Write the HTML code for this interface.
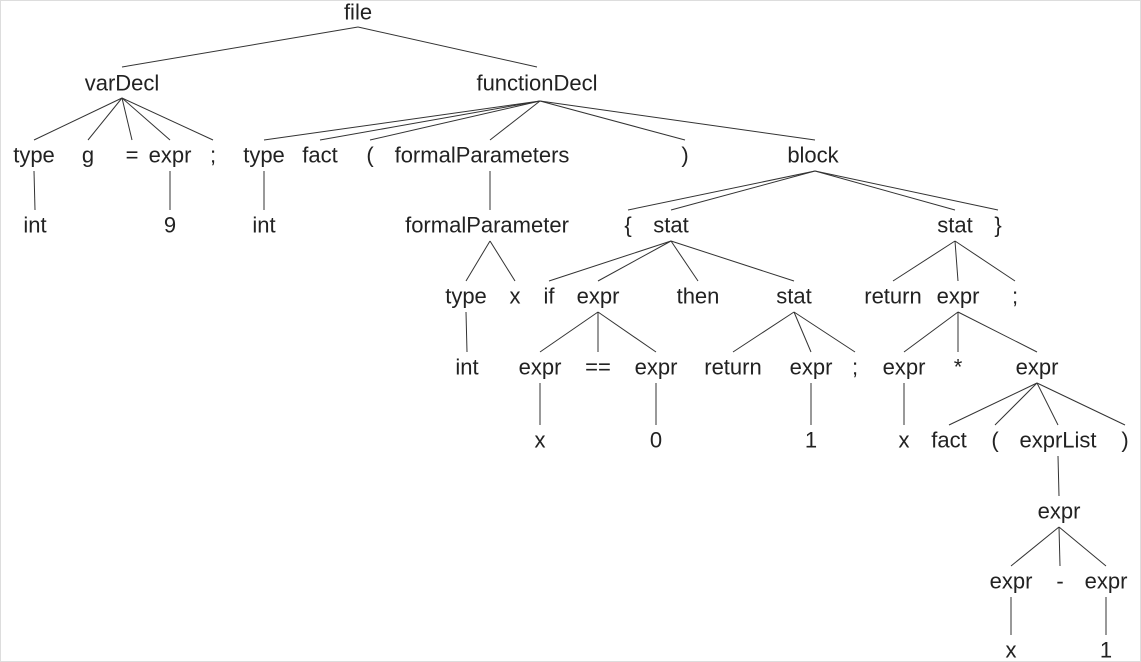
<!DOCTYPE html>
<html><head><meta charset="utf-8"><style>
html,body{margin:0;padding:0;background:#fff;}
svg{display:block}
text{font-family:"Liberation Sans",sans-serif;font-size:22px;fill:#222;text-anchor:middle;dominant-baseline:central}
line{stroke:#333;stroke-width:1}
</style></head><body>
<svg width="1141" height="662" viewBox="0 0 1141 662">
<rect x="0.5" y="0.5" width="1140" height="661" fill="none" stroke="#ddd"/>
<g>
<line x1="358" y1="27" x2="122" y2="67"/><line x1="358" y1="27" x2="537" y2="67"/>
<line x1="122" y1="98" x2="34" y2="140"/><line x1="122" y1="98" x2="88" y2="140"/><line x1="122" y1="98" x2="132" y2="140"/><line x1="122" y1="98" x2="170" y2="140"/><line x1="122" y1="98" x2="213" y2="140"/>
<line x1="34" y1="171" x2="35" y2="210"/><line x1="170" y1="171" x2="170" y2="210"/>
<line x1="540" y1="101" x2="264" y2="140"/><line x1="540" y1="101" x2="320" y2="140"/><line x1="540" y1="101" x2="370" y2="140"/><line x1="540" y1="101" x2="490" y2="140"/><line x1="540" y1="101" x2="685" y2="140"/><line x1="540" y1="101" x2="815" y2="140"/>
<line x1="264" y1="171" x2="264" y2="210"/><line x1="490" y1="171" x2="490" y2="210"/>
<line x1="815" y1="171" x2="628" y2="210"/><line x1="815" y1="171" x2="671" y2="210"/><line x1="815" y1="171" x2="955" y2="210"/><line x1="815" y1="171" x2="998" y2="210"/>
<line x1="490" y1="241" x2="466" y2="281"/><line x1="490" y1="241" x2="515" y2="281"/>
<line x1="466" y1="312" x2="467" y2="352"/>
<line x1="671" y1="241" x2="549" y2="281"/><line x1="671" y1="241" x2="598" y2="281"/><line x1="671" y1="241" x2="698" y2="281"/><line x1="671" y1="241" x2="794" y2="281"/>
<line x1="955" y1="241" x2="893" y2="281"/><line x1="955" y1="241" x2="958" y2="281"/><line x1="955" y1="241" x2="1015" y2="281"/>
<line x1="598" y1="312" x2="540" y2="352"/><line x1="598" y1="312" x2="598" y2="352"/><line x1="598" y1="312" x2="656" y2="352"/>
<line x1="794" y1="312" x2="733" y2="352"/><line x1="794" y1="312" x2="811" y2="352"/><line x1="794" y1="312" x2="855" y2="352"/>
<line x1="958" y1="312" x2="904" y2="352"/><line x1="958" y1="312" x2="958" y2="352"/><line x1="958" y1="312" x2="1037" y2="352"/>
<line x1="540" y1="383" x2="540" y2="425"/><line x1="656" y1="383" x2="656" y2="425"/><line x1="811" y1="383" x2="811" y2="425"/><line x1="904" y1="383" x2="904" y2="425"/>
<line x1="1037" y1="383" x2="949" y2="425"/><line x1="1037" y1="383" x2="995" y2="425"/><line x1="1037" y1="383" x2="1058" y2="425"/><line x1="1037" y1="383" x2="1125" y2="425"/>
<line x1="1058" y1="456" x2="1059" y2="496"/>
<line x1="1059" y1="527" x2="1011" y2="566"/><line x1="1059" y1="527" x2="1060" y2="566"/><line x1="1059" y1="527" x2="1106" y2="566"/>
<line x1="1011" y1="597" x2="1011" y2="635"/><line x1="1106" y1="597" x2="1106" y2="635"/>
</g>
<g>
<text x="358" y="12">file</text>
<text x="122" y="83">varDecl</text><text x="537" y="83">functionDecl</text>
<text x="34" y="155">type</text><text x="88" y="155">g</text><text x="132" y="155">=</text><text x="170" y="155">expr</text><text x="213" y="155">;</text>
<text x="264" y="155">type</text><text x="320" y="155">fact</text><text x="370" y="155">(</text><text x="482" y="155">formalParameters</text><text x="685" y="155">)</text><text x="813" y="155">block</text>
<text x="35" y="225">int</text><text x="170" y="225">9</text><text x="264" y="225">int</text><text x="487" y="225">formalParameter</text><text x="628" y="225">{</text><text x="671" y="225">stat</text><text x="955" y="225">stat</text><text x="998" y="225">}</text>
<text x="466" y="296">type</text><text x="515" y="296">x</text><text x="549" y="296">if</text><text x="598" y="296">expr</text><text x="698" y="296">then</text><text x="794" y="296">stat</text><text x="893" y="296">return</text><text x="958" y="296">expr</text><text x="1015" y="296">;</text>
<text x="467" y="367">int</text><text x="540" y="367">expr</text><text x="598" y="367">==</text><text x="656" y="367">expr</text><text x="733" y="367">return</text><text x="811" y="367">expr</text><text x="855" y="367">;</text><text x="904" y="367">expr</text><text x="958" y="367">*</text><text x="1037" y="367">expr</text>
<text x="540" y="440">x</text><text x="656" y="440">0</text><text x="811" y="440">1</text><text x="904" y="440">x</text><text x="949" y="440">fact</text><text x="995" y="440">(</text><text x="1058" y="440">exprList</text><text x="1125" y="440">)</text>
<text x="1059" y="511">expr</text>
<text x="1011" y="581">expr</text><text x="1060" y="581">-</text><text x="1106" y="581">expr</text>
<text x="1011" y="650">x</text><text x="1106" y="650">1</text>
</g>
</svg>
</body></html>
